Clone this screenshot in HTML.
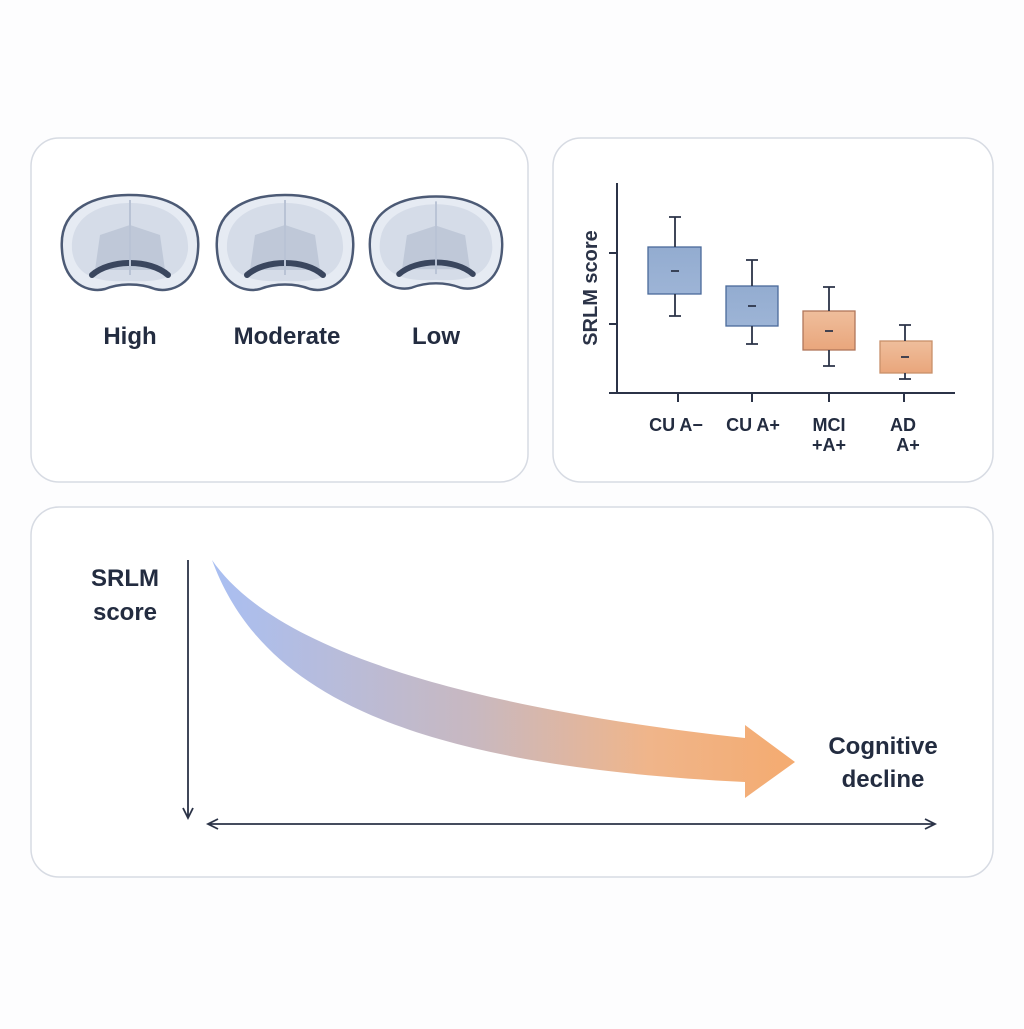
<!DOCTYPE html>
<html><head><style>
body{margin:0;background:#fdfdfe;width:1024px;height:1024px;overflow:hidden;font-family:"Liberation Sans",sans-serif;}
</style></head><body>
<svg width="1024" height="1024" viewBox="0 0 1024 1024" xmlns="http://www.w3.org/2000/svg">
<defs>
<linearGradient id="g" x1="212" y1="0" x2="795" y2="0" gradientUnits="userSpaceOnUse">
<stop offset="0" stop-color="#a9bff2"/><stop offset="0.45" stop-color="#c8b8c0"/><stop offset="0.75" stop-color="#f0b58a"/><stop offset="1" stop-color="#f4ab70"/></linearGradient>
<linearGradient id="bl" x1="0" y1="0" x2="0" y2="1"><stop offset="0" stop-color="#93acd0"/><stop offset="1" stop-color="#9db4d6"/></linearGradient>
<linearGradient id="or" x1="0" y1="0" x2="0" y2="1"><stop offset="0" stop-color="#efbe9c"/><stop offset="1" stop-color="#e9a67c"/></linearGradient>
<g id="brain">
<path d="M-68,5 C-72,-40 -30,-50 0,-50 C30,-50 72,-40 68,5 C66,40 40,48 25,44 C10,38 -10,38 -25,44 C-40,48 -66,40 -68,5Z" fill="#e6ebf3" stroke="#4c5a75" stroke-width="2.5"/>
<path d="M-58,5 C-60,-32 -25,-42 0,-42 C25,-42 60,-32 58,5 C55,30 35,38 0,36 C-35,38 -55,30 -58,5Z" fill="#d5dce8"/>
<path d="M-30,-10 L0,-20 L30,-10 L35,25 L-35,25Z" fill="#bfc8d8"/>
<path d="M-38,30 C-20,14 20,14 38,30" fill="none" stroke="#3a465e" stroke-width="6" stroke-linecap="round"/>
<line x1="0" y1="-45" x2="0" y2="30" stroke="#b9c3d5" stroke-width="2"/>
</g>
</defs>
<rect x="31" y="138" width="497" height="344" rx="28" fill="#fff" stroke="#d7dbe3" stroke-width="1.5"/>
<rect x="553" y="138" width="440" height="344" rx="28" fill="#fff" stroke="#d7dbe3" stroke-width="1.5"/>
<rect x="31" y="507" width="962" height="370" rx="28" fill="#fff" stroke="#d7dbe3" stroke-width="1.5"/>
<use href="#brain" x="130" y="245"/>
<use href="#brain" x="285" y="245"/>
<use href="#brain" x="436" y="245" transform="translate(436 245) scale(0.97) translate(-436 -245)"/>
<g font-size="24" fill="#232c40" text-anchor="middle" font-weight="bold">
<text x="130" y="344">High</text><text x="287" y="344">Moderate</text><text x="436" y="344">Low</text></g>
<g stroke="#2b3347" stroke-width="2" fill="none">
<path d="M617,183 V393 M609,393 H955 M609,253 H617 M609,324 H617 M678,393 V402 M752,393 V402 M829,393 V402 M904,393 V402"/>
</g>
<g stroke="#2b3347" stroke-width="1.8">
<rect x="648" y="247" width="53" height="47" fill="url(#bl)" stroke="#4a6a9a" stroke-width="1.3"/>
<path d="M675,217 V247 M669,217 H681 M675,294 V316 M669,316 H681 M671,271 H679"/>
<rect x="726" y="286" width="52" height="40" fill="url(#bl)" stroke="#4a6a9a" stroke-width="1.3"/>
<path d="M752,260 V286 M746,260 H758 M752,326 V344 M746,344 H758 M748,306 H756"/>
<rect x="803" y="311" width="52" height="39" fill="url(#or)" stroke="#b0765a" stroke-width="1.3"/>
<path d="M829,287 V311 M823,287 H835 M829,350 V366 M823,366 H835 M825,331 H833"/>
<rect x="880" y="341" width="52" height="32" fill="url(#or)" stroke="#c8906a" stroke-width="1.3"/>
<path d="M905,325 V341 M899,325 H911 M905,373 V379 M899,379 H911 M901,357 H909"/>
</g>
<text transform="translate(597 288) rotate(-90)" font-size="20" fill="#2b3347" text-anchor="middle" font-weight="bold">SRLM score</text>
<g font-size="18" fill="#232c40" text-anchor="middle" font-weight="bold">
<text x="676" y="431">CU A−</text><text x="753" y="431">CU A+</text>
<text x="829" y="431">MCI</text><text x="829" y="451">+A+</text>
<text x="903" y="431">AD</text><text x="908" y="451">A+</text></g>
<path d="M212,560 C260,630 400,700 745,738 L745,725 L795,762 L745,798 L745,782 C400,765 260,690 212,560Z" fill="url(#g)"/>
<g stroke="#2b3347" stroke-width="1.8" fill="none">
<path d="M188,560 V818 M183,808 L188,818 L193,808"/>
<path d="M208,824 H935 M218,819 L208,824 L218,829 M925,819 L935,824 L925,829"/>
</g>
<g font-size="24" fill="#232c40" text-anchor="middle" font-weight="bold">
<text x="125" y="586">SRLM</text><text x="125" y="620">score</text>
<text x="883" y="754">Cognitive</text><text x="883" y="787">decline</text></g>
</svg>
</body></html>
